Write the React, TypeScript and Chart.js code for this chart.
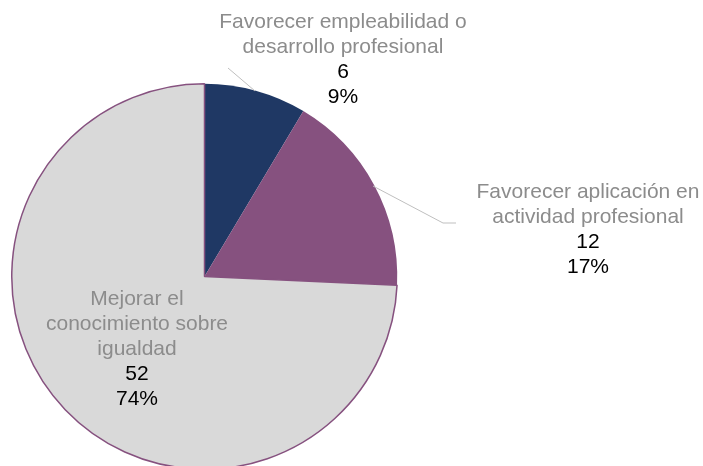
import React, { useEffect, useRef } from "react";
import { Chart, registerables } from "chart.js";

Chart.register(...registerables);

const categories = [
  "Favorecer empleabilidad o desarrollo profesional",
  "Favorecer aplicación en actividad profesional",
  "Mejorar el conocimiento sobre igualdad",
];
const labelLines = [
  ["Favorecer empleabilidad o", "desarrollo profesional"],
  ["Favorecer aplicación en", "actividad profesional"],
  ["Mejorar el", "conocimiento sobre", "igualdad"],
];
const values = [6, 12, 52];
const percents = ["9%", "17%", "74%"];
const colors = ["#1F3864", "#86517F", "#D9D9D9"];

// label layout: [centerX, firstLineY]
const labelPos = [
  [343, 22],
  [588, 192],
  [137, 299],
];
const leaders: number[][][] = [
  [[228, 68], [255, 91]],
  [[373, 186], [443, 223], [456, 223]],
  [],
];

const labelPlugin = {
  id: "sliceLabels",
  afterDatasetsDraw(chart: any) {
    const ctx = chart.ctx;
    ctx.save();
    ctx.strokeStyle = "#BFBFBF";
    ctx.lineWidth = 1;
    leaders.forEach((pts) => {
      if (!pts.length) return;
      ctx.beginPath();
      ctx.moveTo(pts[0][0], pts[0][1]);
      for (let i = 1; i < pts.length; i++) ctx.lineTo(pts[i][0], pts[i][1]);
      ctx.stroke();
    });
    ctx.font = '21px "Liberation Sans", Arial, sans-serif';
    ctx.textAlign = "center";
    ctx.textBaseline = "middle";
    const lh = 25;
    labelLines.forEach((lines, i) => {
      const [x, y0] = labelPos[i];
      let y = y0;
      ctx.fillStyle = "#8C8C8C";
      lines.forEach((t) => {
        ctx.fillText(t, x, y);
        y += lh;
      });
      ctx.fillStyle = "#000000";
      ctx.fillText(String(values[i]), x, y);
      y += lh;
      ctx.fillText(percents[i], x, y);
    });
    ctx.restore();
  },
};

export default function App() {
  const ref = useRef<HTMLCanvasElement>(null);
  useEffect(() => {
    if (!ref.current) return;
    const chart = new Chart(ref.current, {
      type: "pie",
      data: {
        labels: categories,
        datasets: [
          {
            data: values,
            backgroundColor: colors,
            borderColor: ["#1F3864", "#86517F", "#86517F"],
            borderWidth: [0, 0, 1.5],
          },
        ],
      },
      options: {
        animation: false,
        responsive: true,
        maintainAspectRatio: false,
        layout: { padding: { left: 11, top: 83, right: 305, bottom: 0 } },
        plugins: {
          legend: { display: false },
          tooltip: { enabled: false },
        },
      },
      plugins: [labelPlugin],
    });
    return () => chart.destroy();
  }, []);
  return (
    <div
      style={{
        position: "fixed",
        left: 0,
        top: 0,
        width: 703,
        height: 470,
        background: "#fff",
      }}
    >
      <canvas ref={ref} />
    </div>
  );
}
